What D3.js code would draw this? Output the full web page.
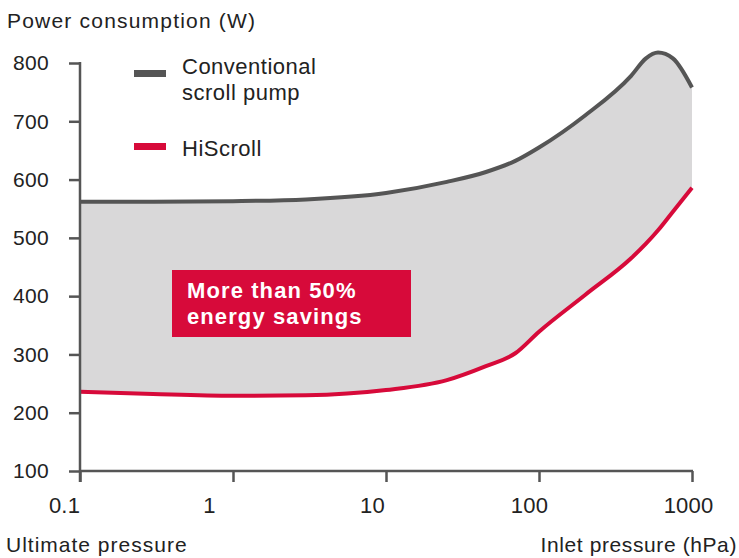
<!DOCTYPE html>
<html>
<head>
<meta charset="UTF-8">
<title>Power consumption</title>
<script src="https://d3js.org/d3.v7.min.js"></script>
<style>
  body { margin: 0; background: #fff; }
  text { font-family: "Liberation Sans", Arial, sans-serif; fill: #222; }
</style>
</head>
<body>
<div id="chart"></div>
<script>
// data
var pressures = [0.1, 0.3, 1, 3, 10, 25, 45, 70, 100, 200, 400, 500, 600, 750, 1000];
var conventional = [562, 562, 563, 566, 577, 596, 613, 632, 655, 710, 778, 808, 818, 808, 758];
var hiscroll = [236, 232, 229, 230, 239, 256, 280, 302, 339, 402, 465, 490, 513, 545, 586];
var xTicks = [0.1, 1, 10, 100, 1000];
var xTickLabels = ["0.1", "1", "10", "100", "1000"];
var yTicks = [100, 200, 300, 400, 500, 600, 700, 800];
var seriesNames = ["Conventional scroll pump", "HiScroll"];

var W = 739, H = 558;
var axisColor = "#555", grayLine = "#555", red = "#d70a3a";

var svg = d3.select("#chart").append("svg")
    .attr("width", W)
    .attr("height", H);

var x = d3.scaleLog().domain([0.1, 1000]).range([80, 692]);
var y = d3.scaleLinear().domain([100, 800]).range([471, 63]);

var rows = pressures.map(function(p, i) {
  return {p: p, c: conventional[i], h: hiscroll[i]};
});

// shaded band between the two curves
svg.append("path")
  .datum(rows)
  .attr("fill", "#d9d8d9")
  .attr("d", d3.area()
    .curve(d3.curveMonotoneX)
    .x(function(d) { return x(d.p); })
    .y0(function(d) { return y(d.h); })
    .y1(function(d) { return y(d.c); }));

// the lines
svg.append("path")
  .datum(rows)
  .attr("fill", "none")
  .attr("stroke", grayLine)
  .attr("stroke-width", 4)
  .attr("d", d3.line().curve(d3.curveMonotoneX)
    .x(function(d) { return x(d.p); })
    .y(function(d) { return y(d.c); }));

svg.append("path")
  .datum(rows)
  .attr("fill", "none")
  .attr("stroke", red)
  .attr("stroke-width", 4)
  .attr("d", d3.line().curve(d3.curveMonotoneX)
    .x(function(d) { return x(d.p); })
    .y(function(d) { return y(d.h); }));

// Y axis
var yAxis = svg.append("g")
  .attr("transform", "translate(80,0)")
  .call(d3.axisLeft(y).tickValues(yTicks).tickSize(11).tickPadding(20));
yAxis.select(".domain").remove();
yAxis.selectAll(".tick line").attr("stroke", axisColor).attr("stroke-width", 2.5);
yAxis.selectAll(".tick text")
  .attr("fill", "#222")
  .style("font-size", "21px")
  .style("letter-spacing", "0.3px")
  .style("font-family", "'Liberation Sans', Arial, sans-serif");
yAxis.append("line")
  .attr("x1", 0).attr("x2", 0)
  .attr("y1", y(800) - 1).attr("y2", y(100) + 11)
  .attr("stroke", axisColor).attr("stroke-width", 2.5);

// X axis
var xAxis = svg.append("g")
  .attr("transform", "translate(0," + y(100) + ")")
  .call(d3.axisBottom(x).tickValues(xTicks)
    .tickFormat(function(d, i) { return xTickLabels[i]; })
    .tickSize(11).tickPadding(15));
xAxis.select(".domain").remove();
xAxis.selectAll(".tick line").attr("stroke", axisColor).attr("stroke-width", 2.5);
xAxis.selectAll(".tick text")
  .attr("fill", "#222")
  .attr("dx", function(d, i) { return [-16, -24, -14, -10, -4][i]; })
  .style("font-size", "22px")
  .style("letter-spacing", "0.2px")
  .style("font-family", "'Liberation Sans', Arial, sans-serif");
xAxis.append("line")
  .attr("x1", x(0.1) - 1).attr("x2", x(1000) + 1)
  .attr("y1", 0).attr("y2", 0)
  .attr("stroke", axisColor).attr("stroke-width", 2.5);

// axis titles
svg.append("text")
  .attr("x", 7).attr("y", 28)
  .style("font-size", "21px").style("letter-spacing", "1.2px")
  .text("Power consumption (W)");
svg.append("text")
  .attr("x", 6).attr("y", 552)
  .style("font-size", "21px").style("letter-spacing", "1px")
  .text("Ultimate pressure");
svg.append("text")
  .attr("x", 737).attr("y", 552)
  .attr("text-anchor", "end")
  .style("font-size", "21px").style("letter-spacing", "0.6px")
  .text("Inlet pressure (hPa)");

// legend
var legend = svg.append("g");
legend.append("rect")
  .attr("x", 134).attr("y", 70).attr("width", 32).attr("height", 7)
  .attr("fill", grayLine);
legend.append("text")
  .attr("x", 182).attr("y", 74)
  .style("font-size", "22px").style("letter-spacing", "0.5px")
  .text("Conventional");
legend.append("text")
  .attr("x", 182).attr("y", 100)
  .style("font-size", "22px").style("letter-spacing", "0.5px")
  .text("scroll pump");
legend.append("rect")
  .attr("x", 134).attr("y", 143).attr("width", 32).attr("height", 7)
  .attr("fill", red);
legend.append("text")
  .attr("x", 182).attr("y", 156)
  .style("font-size", "22px").style("letter-spacing", "0.5px")
  .text(seriesNames[1]);

// callout box
svg.append("rect")
  .attr("x", 172).attr("y", 270).attr("width", 239).attr("height", 67)
  .attr("fill", red);
svg.append("text")
  .attr("x", 187).attr("y", 298)
  .style("fill", "#fff").style("font-weight", "bold")
  .style("font-size", "22px").style("letter-spacing", "1.1px")
  .text("More than 50%");
svg.append("text")
  .attr("x", 187).attr("y", 324)
  .style("fill", "#fff").style("font-weight", "bold")
  .style("font-size", "22px").style("letter-spacing", "1.1px")
  .text("energy savings");
</script>
</body>
</html>
